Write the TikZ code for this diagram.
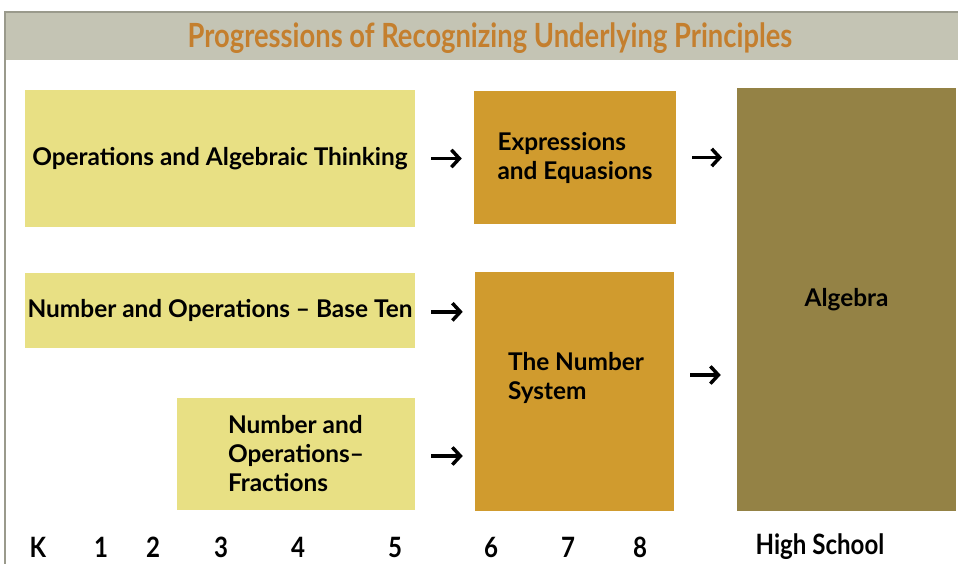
\documentclass[tikz,border=0pt]{standalone}
\usepackage{fontspec}
\setmainfont{Lato}
\definecolor{barGray}{HTML}{C4C4B4}
\definecolor{lineGray}{HTML}{9A9A8C}
\definecolor{titleOrange}{HTML}{C47F2E}
\definecolor{paleYellow}{HTML}{E8E084}
\definecolor{goldBox}{HTML}{D09B2E}
\definecolor{oliveBox}{HTML}{948245}
\newcommand{\cond}[1]{\scalebox{0.86}[1]{#1}}
\tikzset{
  box/.style={rectangle, inner sep=0pt, align=left, font=\bfseries\fontsize{18.3}{21.75}\selectfont},
  grade/.style={font=\bfseries\fontsize{21}{24}\selectfont},
  arr/.style={-{Straight Barb[length=6pt,width=13pt]}, line width=2.6pt}
}
\usetikzlibrary{arrows.meta}
\begin{document}
\begin{tikzpicture}[x=0.75pt,y=-0.75pt]
	\useasboundingbox (0,0) rectangle (958,564);

	% title bar
	\fill[barGray] (5,12) rectangle (958,60);
	\draw[lineGray, line width=1pt] (958,12) -- (5,12) -- (5,564);
	\node (title) at (490,38) {\scalebox{0.82}[1]{\color{titleOrange}\bfseries\fontsize{25}{28}\selectfont Progressions of Recognizing Underlying Principles}};

	% boxes
	\node[box, fill=paleYellow, minimum width=292.5pt, minimum height=102.75pt] (oat) at (220,158.5) {Operations and Algebraic Thinking};
	\node[box, fill=paleYellow, minimum width=292.5pt, minimum height=56.25pt] (nbt) at (220,310.5) {Number and Operations -- Base Ten};
	\node[box, fill=paleYellow, minimum width=178.5pt, minimum height=84pt] (nf) at (296,454) {Number and\\Operations--\\Fractions};
	\node[box, fill=goldBox, minimum width=151.5pt, minimum height=99.75pt] (ee) at (575,157.5) {Expressions\\and Equasions};
	\node[box, fill=goldBox, minimum width=149.25pt, minimum height=179.25pt] (ns) at (574.5,391.5) {};
	\node[box] (nstext) at (576,378) {The Number\\System};
	\node[box, fill=oliveBox, minimum width=164.25pt, minimum height=317.25pt] (alg) at (846.5,299.5) {Algebra};

	% arrows
	\draw[arr, shorten <=12pt, shorten >=9pt] (oat.east) -- (oat.east -| ee.west);
	\draw[arr, shorten <=12pt, shorten >=11pt] (ee.east) -- (ee.east -| alg.west);
	\draw[arr, shorten <=12pt, shorten >=9pt] ([yshift=-1pt]nbt.east) -- ([yshift=-1pt]nbt.east -| ns.west);
	\draw[arr, shorten <=12pt, shorten >=9pt] ([yshift=-1.5pt]nf.east) -- ([yshift=-1.5pt]nf.east -| ns.west);
	\coordinate (nsout) at (674,375);
	\draw[arr, shorten <=12pt, shorten >=12pt] (nsout) -- (nsout -| alg.west);

	% grades
	\foreach \g/\x in {K/38, 1/101, 2/153, 3/221, 4/298, 5/395, 6/491, 7/568, 8/640}
		\node[grade] (g\g) at (\x,547) {\cond{\g}};
	\node[grade] (ghs) at (820,547) {\cond{High School}};
\end{tikzpicture}
\end{document}
